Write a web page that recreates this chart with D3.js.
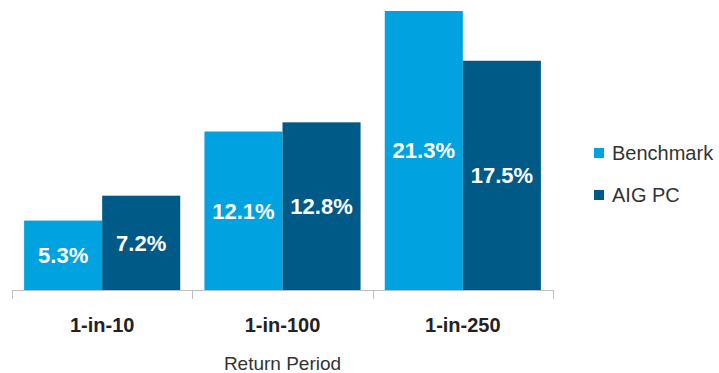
<!DOCTYPE html>
<html>
<head>
<meta charset="utf-8">
<script src="https://cdn.jsdelivr.net/npm/d3@7"></script>
<style>
  body { margin: 0; background: #fff; }
  text { font-family: "Liberation Sans", Arial, sans-serif; }
</style>
</head>
<body>
<div id="holder"></div>
<script>
// data
var categories = ["1-in-10", "1-in-100", "1-in-250"];
var seriesNames = ["Benchmark", "AIG PC"];
var benchmark = [5.3, 12.1, 21.3];
var aigPC = [7.2, 12.8, 17.5];
var colors = ["#00a3e0", "#005a87"];

var fullWidth = 719, fullHeight = 373;
var margin = {left: 12, top: 10, axisY: 290};
var plotWidth = 541;

var svg = d3.select('#holder').append('svg')
  .attr('width', fullWidth)
  .attr('height', fullHeight);

var xScale = d3.scaleBand()
  .domain(categories)
  .range([margin.left, margin.left + plotWidth])
  .paddingInner(0)
  .paddingOuter(0);

var inner = d3.scaleBand()
  .domain(seriesNames)
  .range([0, xScale.bandwidth()])
  .paddingOuter(0.155)
  .paddingInner(0);

var yScale = d3.scaleLinear()
  .domain([0, 21.3])
  .range([margin.axisY, 11]);

var rows = [];
categories.forEach(function(c, i) {
  rows.push({cat: c, s: seriesNames[0], v: benchmark[i], color: colors[0]});
  rows.push({cat: c, s: seriesNames[1], v: aigPC[i], color: colors[1]});
});

var bars = svg.append('g').attr('class', 'bar-holder');
bars.selectAll('rect')
  .data(rows)
  .enter().append('rect')
  .attr('x', function(d) { return xScale(d.cat) + inner(d.s); })
  .attr('y', function(d) { return yScale(d.v); })
  .attr('width', inner.bandwidth())
  .attr('height', function(d) { return margin.axisY - yScale(d.v); })
  .style('fill', function(d) { return d.color; });

bars.selectAll('text')
  .data(rows)
  .enter().append('text')
  .attr('x', function(d) { return xScale(d.cat) + inner(d.s) + inner.bandwidth() / 2; })
  .attr('y', function(d) { return (yScale(d.v) + margin.axisY) / 2; })
  .attr('dy', '0.36em')
  .attr('text-anchor', 'middle')
  .style('fill', '#fff')
  .style('font-size', '22px')
  .style('font-weight', 'bold')
  .text(function(d) { return d.v.toFixed(1) + '%'; });

// x axis with ticks at category boundaries
var axis = svg.append('g').attr('class', 'x-axis');
axis.append('line')
  .attr('x1', margin.left).attr('x2', margin.left + plotWidth)
  .attr('y1', margin.axisY + 0.5).attr('y2', margin.axisY + 0.5)
  .style('stroke', '#bfbfbf').style('stroke-width', 1);
var bounds = categories.map(function(c) { return xScale(c); }).concat([margin.left + plotWidth]);
axis.selectAll('.tick')
  .data(bounds)
  .enter().append('line')
  .attr('class', 'tick')
  .attr('x1', function(d) { return Math.round(d) + 0.5; })
  .attr('x2', function(d) { return Math.round(d) + 0.5; })
  .attr('y1', margin.axisY).attr('y2', margin.axisY + 9)
  .style('stroke', '#bfbfbf');
axis.selectAll('.cat-label')
  .data(categories)
  .enter().append('text')
  .attr('class', 'cat-label')
  .attr('x', function(d) { return xScale(d) + xScale.bandwidth() / 2; })
  .attr('y', 332)
  .attr('text-anchor', 'middle')
  .style('font-size', '20px')
  .style('font-weight', 'bold')
  .style('fill', '#222')
  .text(function(d) { return d; });

svg.append('text')
  .attr('x', margin.left + plotWidth / 2)
  .attr('y', 370)
  .attr('text-anchor', 'middle')
  .style('font-size', '19px')
  .style('fill', '#333')
  .text('Return Period');

// legend
var legend = svg.append('g').attr('class', 'legend');
var items = legend.selectAll('g')
  .data(seriesNames)
  .enter().append('g')
  .attr('transform', function(d, i) { return 'translate(594,' + (148 + i * 42) + ')'; });
items.append('rect')
  .attr('width', 10).attr('height', 10)
  .style('fill', function(d, i) { return colors[i]; });
items.append('text')
  .attr('x', 18).attr('y', 5)
  .attr('dy', '0.36em')
  .style('font-size', '20px')
  .style('fill', '#333')
  .text(function(d) { return d; });
</script>
</body>
</html>
